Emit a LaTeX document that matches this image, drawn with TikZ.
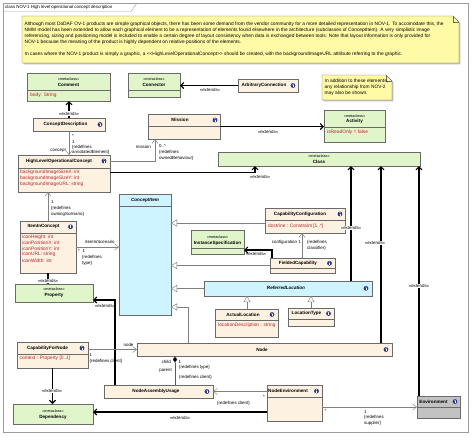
\documentclass[tikz,border=0pt]{standalone}
\usepackage{fontspec}
\setmainfont{Liberation Sans}
\usetikzlibrary{arrows.meta, shadows}

\definecolor{classbeige}{HTML}{FDF1E1}
\definecolor{metagreen}{HTML}{E1F5CB}
\definecolor{abstractcyan}{HTML}{CDF4FF}
\definecolor{envgray}{HTML}{C2C2C2}
\definecolor{noteyellow}{HTML}{FFFAA6}
\definecolor{attrred}{HTML}{B3262C}
\definecolor{iconblue}{HTML}{2B3A8F}
\definecolor{boxedge}{HTML}{6A6A6A}
\definecolor{framegray}{HTML}{9C9C9C}

\tikzset{
  box/.style={draw=boxedge, line width=0.5pt, anchor=north west, inner sep=0pt, outer sep=0pt,
    drop shadow={shadow xshift=1.3pt, shadow yshift=-1.3pt, fill=black!30, opacity=1}},
  beigebox/.style={box, fill=classbeige},
  greenbox/.style={box, fill=metagreen},
  cyanbox/.style={box, fill=abstractcyan},
  graybox/.style={box, fill=envgray},
  notebox/.style={draw=boxedge, line width=0.4pt, fill=noteyellow,
    drop shadow={shadow xshift=1.3pt, shadow yshift=-1.3pt, fill=black!25, opacity=1}},
  divider/.style={draw=boxedge, line width=0.4pt},
  notetext/.style={font=\fontsize{4.85}{6}\selectfont, align=left, inner sep=0pt, anchor=north west},
  clsname/.style={font=\fontsize{4.6}{5.5}\selectfont\bfseries, inner sep=0pt},
  absname/.style={font=\fontsize{4.6}{5.5}\selectfont\bfseries\itshape, inner sep=0pt},
  stereo/.style={font=\fontsize{3.8}{4.5}\selectfont, inner sep=0pt},
  attr/.style={font=\fontsize{4.85}{5.5}\selectfont, text=attrred, anchor=west, inner sep=0pt},
  lbl/.style={font=\fontsize{4.4}{5.2}\selectfont, inner sep=0pt},
  extlbl/.style={lbl, fill=white, inner sep=0.4pt},
  extline/.style={draw=black, line width=1.1pt, -{Straight Barb[length=3pt, width=6pt]}},
  assocline/.style={draw=gray, line width=0.45pt, -{Straight Barb[length=4pt, width=6pt]}},
  genline/.style={draw=gray, line width=0.45pt, -{Triangle[open, length=6pt, width=7pt, fill=white]}},
  compline/.style={draw=gray!70!black, line width=0.5pt, {Diamond[length=7pt, width=4.5pt, fill=black]}-},
  infoicon/.pic={
    \fill[iconblue] (0,0) circle (2.4pt);
    \fill[white] (-0.5pt,-1.5pt) rectangle (0.5pt,0.5pt);
    \fill[white] (0,1.3pt) circle (0.55pt);
  }
}

\begin{document}
\begin{tikzpicture}[x=1pt, y=-1pt]
\useasboundingbox (0,0) rectangle (474,437);
\fill[white] (0,0) rectangle (474,437);

% frame
\draw[framegray] (3,3) rectangle (468,432);
\draw[framegray] (3,11.5) -- (131,11.5) -- (137,3);
\node[lbl, anchor=west] (frametitle) at (5,7.3) {class NOV-1 High level operational concept description};

% notes
\path[notebox] (22,16) -- (453,16) -- (459,22) -- (459,63) -- (22,63) -- cycle;
\draw[divider] (453,16) -- (453,22) -- (459,22);
\node[notetext] (bignotetext) at (24.5,22) {Although most DoDAF OV-1 products are simple graphical objects, there has been some demand from the vendor community for a more detailed representation in NOV-1. To accomodate this, the\\
NMM model has been extended to allow each graphical element to be a representation of elements found elsewhere in the architecture (subclasses of ConceptItem). A very simplistic image\\
referencing, sizing and positioning model is included to enable a certain degree of layout consistency when data is exchanged between tools. Note that layout information is only provided for\\
NOV-1 because the meaning of the product is highly dependent on relative positions of the elements.\\[6pt]
In cases where the NOV-1 product is simply a graphic, a <{}<HighLevelOperationalConcept>{}> should be created, with the backgroundImageURL attribute referring to the graphic.};

\path[notebox] (322,75) -- (386,75) -- (392,81) -- (392,100) -- (322,100) -- cycle;
\draw[divider] (386,75) -- (386,81) -- (392,81);
\node[notetext] (smallnotetext) at (324.5,78.5) {In addition to these elements,\\ any relationship from NOV-2\\ may also be shown.};

% metaclasses and classes
\node[greenbox, minimum width=83pt, minimum height=28pt] (comment) at (27,73) {};
\draw[divider] (27,90) -- (110,90);
\node[stereo] (commentst) at (68.5,78.8) {«metaclass»};
\node[clsname] (commentname) at (68.5,84.8) {Comment};
\node[attr] (commentattr) at (30,95.5) {body: String};

\node[greenbox, minimum width=52pt, minimum height=24pt] (connector) at (128,73) {};
\draw[divider] (128,90) -- (180,90);
\node[stereo] (connectorst) at (154,78.8) {«metaclass»};
\node[clsname] (connectorname) at (154,84.8) {Connector};

\node[beigebox, minimum width=60pt, minimum height=13pt] (arbconn) at (238,79) {};
\node[clsname] (arbconnname) at (264,85.5) {ArbitraryConnection};
\pic at (293,85.5) {infoicon};

\node[beigebox, minimum width=72pt, minimum height=13pt] (concdesc) at (33,118) {};
\node[clsname] (concdescname) at (65.5,124.5) {ConceptDescription};
\pic at (100,124.5) {infoicon};

\node[beigebox, minimum width=72pt, minimum height=25pt] (mission) at (148,114) {};
\draw[divider] (148,126) -- (220,126);
\node[clsname] (missionname) at (180,120) {Mission};
\pic at (215,120) {infoicon};

\node[greenbox, minimum width=61pt, minimum height=32pt] (actmeta) at (324,110) {};
\draw[divider] (324,127) -- (385,127);
\node[stereo] (actst) at (354.5,115.8) {«metaclass»};
\node[clsname] (actname) at (354.5,121.5) {Activity};
\node[attr] (actattr) at (327,132.5) {isReadOnly = false};

\node[beigebox, minimum width=92pt, minimum height=37pt] (hloc) at (18,155) {};
\draw[divider] (18,168) -- (110,168);
\node[clsname] (hloctitle) at (59,161) {HighLevelOperationalConcept};
\pic at (104,161) {infoicon};
\node[attr] (hlocattr1) at (20,172.5) {backgroundImageSizeX: int};
\node[attr] (hlocattr2) at (20,178.3) {backgroundImageSizeY: int};
\node[attr] (hlocattr3) at (20,184.1) {backgroundImageURL: string};

\node[greenbox, minimum width=202pt, minimum height=14pt] (classmeta) at (218,152) {};
\node[stereo] (classst) at (319,156) {«metaclass»};
\node[clsname] (classname) at (319,162) {Class};

\node[cyanbox, minimum width=52pt, minimum height=121pt] (conceptitem) at (119,194) {};
\draw[divider] (119,206) -- (171,206);
\node[absname] (conceptitemname) at (145,200.5) {ConceptItem};

\node[beigebox, minimum width=56pt, minimum height=52pt] (iteminconcept) at (20,221) {};
\draw[divider] (20,233) -- (76,233);
\node[clsname] (iteminconceptname) at (43.5,226.8) {ItemInConcept};
\pic at (70.5,226.8) {infoicon};
\node[attr] (icattr1) at (22,237.3) {iconHeight: int};
\node[attr] (icattr2) at (22,243.1) {iconPositionX: int};
\node[attr] (icattr3) at (22,248.9) {iconPositionY: int};
\node[attr] (icattr4) at (22,254.7) {iconURL: string};
\node[attr] (icattr5) at (22,260.5) {iconWidth: int};

\node[greenbox, minimum width=78pt, minimum height=18pt] (propmeta) at (15,284) {};
\node[stereo] (propst) at (54,289.5) {«metaclass»};
\node[clsname] (propname) at (54,295.7) {Property};

\node[beigebox, minimum width=80pt, minimum height=25pt] (capconf) at (265,208) {};
\draw[divider] (265,220) -- (345,220);
\node[clsname] (capconfname) at (300,214) {CapabilityConfiguration};
\pic at (340,214) {infoicon};
\node[attr] (capconfattr) at (268,226.3) {doctrine : Constraint [1..*]};

\node[greenbox, minimum width=53pt, minimum height=24pt] (instspec) at (191,230) {};
\draw[divider] (191,248) -- (244,248);
\node[stereo] (instspecst) at (217.5,237) {«metaclass»};
\node[clsname] (instspecname) at (217.5,243) {InstanceSpecification};

\node[beigebox, minimum width=65pt, minimum height=15pt] (fieldcap) at (270,258) {};
\draw[divider] (270,268.5) -- (335,268.5);
\node[clsname] (fieldcapname) at (298,263.2) {FieldedCapability};
\pic at (329.5,263.2) {infoicon};

\node[cyanbox, minimum width=168pt, minimum height=15pt] (refloc) at (204,281) {};
\node[absname] (reflocname) at (286,288.3) {ReferredLocation};
\pic at (366,288.3) {infoicon};

\node[beigebox, minimum width=63pt, minimum height=28pt] (actloc) at (215,309) {};
\draw[divider] (215,320) -- (278,320);
\node[clsname] (actlocname) at (243,314.5) {ActualLocation};
\pic at (272,314.5) {infoicon};
\node[attr] (actlocattr) at (218,325.7) {locationDescription : string};

\node[beigebox, minimum width=46pt, minimum height=18pt] (loctype) at (288,308) {};
\draw[divider] (288,319) -- (334,319);
\node[clsname] (loctypename) at (306.5,313.5) {LocationType};
\pic at (328.5,313.5) {infoicon};

\node[beigebox, minimum width=255pt, minimum height=13pt] (nodecls) at (137,343) {};
\node[clsname] (nodename) at (262,349.5) {Node};
\pic at (386,349.5) {infoicon};

\node[beigebox, minimum width=109pt, minimum height=13pt] (nau) at (104,385) {};
\node[clsname] (nauname) at (156,391.5) {NodeAssemblyUsage};
\pic at (207,391.5) {infoicon};

\node[beigebox, minimum width=55pt, minimum height=36pt] (nodeenv) at (267,385) {};
\draw[divider] (267,397) -- (322,397);
\node[clsname] (nodeenvname) at (288,391) {NodeEnvironment};
\pic at (316.5,391) {infoicon};

\node[graybox, minimum width=43pt, minimum height=22pt] (env) at (417,396) {};
\draw[divider] (417,407) -- (460,407);
\node[clsname] (envname) at (433.5,401.5) {Environment};
\pic at (455,401.5) {infoicon};

\node[beigebox, minimum width=71pt, minimum height=26pt] (capfornode) at (17,342) {};
\draw[divider] (17,354) -- (88,354);
\node[clsname] (capfornodename) at (47.5,348) {CapabilityForNode};
\pic at (82,348) {infoicon};
\node[attr] (capfornodeattr) at (19.5,358.7) {context : Property [0..1]};

\node[greenbox, minimum width=80pt, minimum height=20pt] (depmeta) at (13,404) {};
\node[stereo] (depst) at (53,410.8) {«metaclass»};
\node[clsname] (depname) at (53,417) {Dependency};

% connection points
\coordinate (hc1) at ([xshift=37pt]classmeta.south west);
\coordinate (ms1) at ([xshift=7pt]mission.south west);
\coordinate (rl1) at ([xshift=-21pt]refloc.north east);
\coordinate (nd1) at ([xshift=-11pt]nodecls.north east);
\coordinate (nd2) at ([xshift=51pt]nodecls.north west);
\coordinate (nd3) at ([xshift=38pt]nodecls.south west);
\coordinate (en1) at ([xshift=2pt]env.north west);
\coordinate (na1) at ([xshift=11pt]nau.north west);
\coordinate (pr1) at ([yshift=-7pt]propmeta.east);
\coordinate (cc1) at ([yshift=-2.5pt]capconf.west);
\coordinate (ci1) at ([yshift=8pt]conceptitem.south east);
\coordinate (fc1) at ([xshift=32pt]fieldcap.north west);
\coordinate (fc2) at ([xshift=2pt]fieldcap.north west);
\coordinate (is1) at ([yshift=-8pt]instspec.east);
\coordinate (al1) at ([xshift=32pt]actloc.north west);
\coordinate (ne1) at ([yshift=-22pt]nodeenv.north east);
\coordinate (ne2) at ([yshift=-27pt]nodeenv.north west);

% extensions
\draw[extline] (arbconn.west) -- (arbconn.west -| connector.east);
\draw[extline] (concdesc.north) -- (concdesc.north |- comment.south);
\draw[extline] (mission.east) -- (mission.east -| actmeta.west);
\draw[extline] (hloc.east |- hlocattr1) -| (hc1);
\draw[extline] (rl1) -- (rl1 |- classmeta.south);
\draw[extline] (nd1) -- (nd1 |- classmeta.south);
\draw[extline] (en1) -- (en1 |- classmeta.south);
\draw[extline] (iteminconcept.south) -- (iteminconcept.south |- propmeta.north);
\draw[extline] (na1) |- (pr1);
\draw[extline] (fc2) |- (is1);
\draw[extline] (capfornode.south) -- (capfornode.south |- depmeta.north);
\draw[extline] (ne2) -- (ne2 -| depmeta.east);

% generalizations
\draw[genline] (cc1) -- (cc1 -| conceptitem.east);
\draw[genline] (fieldcap.west) -- (fieldcap.west -| conceptitem.east);
\draw[genline] (refloc.west) -- (refloc.west -| conceptitem.east);
\draw[genline] (nd2) |- (ci1);
\draw[genline] (al1) -- (al1 |- refloc.south);
\draw[genline] (loctype.north) -- (loctype.north |- refloc.south);

% associations
\draw[assocline] (concdesc.south) -- (concdesc.south |- hloc.north);
\draw[assocline] (hloc.east |- hloctitle) -| (ms1);
\draw[assocline] (iteminconcept.north) -- (iteminconcept.north |- hloc.south);
\draw[assocline] (iteminconcept.east) -- (iteminconcept.east -| conceptitem.west);
\draw[assocline] (fc1) -- (fc1 |- capconf.south);
\draw[assocline] (nodecls.west -| capfornode.east) -- (nodecls.west);
\draw[assocline] (nau.east -| nodeenv.west) -- (nau.east);
\draw[assocline] (ne1) -- (ne1 -| env.west);
\draw[compline] (nd3) -- (nd3 |- nau.north);

% labels
\node[lbl] (l1) at (210,90) {«extends»};
\node[extlbl] (l2) at (69,113.5) {«extends»};
\node[lbl] (l3) at (268,132) {«extends»};
\node[lbl] (l4) at (260,176.5) {«extends»};
\node[extlbl] (l5) at (351,228) {«extends»};
\node[extlbl] (l6) at (375,243) {«extends»};
\node[extlbl] (l7) at (419,286) {«extends»};
\node[extlbl] (l8) at (48,281) {«extends»};
\node[lbl] (l9) at (105,305.5) {«extends»};
\node[lbl] (l10) at (256,254) {«extends»};
\node[extlbl] (l11) at (52,391) {«extends»};
\node[lbl] (l12) at (180,418) {«extends»};

\node[lbl, anchor=east] (cd1) at (66,150.5) {concept};
\node[lbl, anchor=west] (cd2) at (72,136) {*};
\node[lbl, anchor=west] (cd3) at (72,141.5) {1};
\node[lbl, anchor=west] (cd4) at (72,147) {\{redefines};
\node[lbl, anchor=west] (cd5) at (72,152.5) {annotatedElement\}};

\node[lbl, anchor=east] (ms2) at (151,147) {mission};
\node[lbl, anchor=west] (ms3) at (159,146) {0..*};
\node[lbl, anchor=west] (ms4) at (159,152) {\{redefines};
\node[lbl, anchor=west] (ms5) at (159,158) {ownedBehaviour\}};

\node[lbl, anchor=west] (ic1) at (51,202) {1};
\node[lbl, anchor=west] (ic2) at (51,208.5) {\{redefines};
\node[lbl, anchor=west] (ic3) at (51,214.5) {owningScenario\}};

\node[lbl] (ic4) at (100,242.3) {itemInScenario};
\node[lbl, anchor=west] (ic5) at (78,250.5) {*};
\node[lbl, anchor=west] (ic6) at (82.5,251) {1};
\node[lbl, anchor=west] (ic7) at (82,257.5) {\{redefines};
\node[lbl, anchor=west] (ic8) at (82,263.5) {type\}};

\node[lbl, anchor=east] (fc3) at (301,242.5) {configuration 1};
\node[lbl, anchor=west] (fc4) at (307,242.5) {\{redefines};
\node[lbl, anchor=west] (fc5) at (307,248) {classifier\}};

\node[lbl] (cn1) at (128.5,344.5) {node};
\node[lbl, anchor=west] (cn2) at (89.5,354.5) {1};
\node[lbl, anchor=west] (cn3) at (89.5,361) {\{redefines client\}};

\node[lbl, anchor=east] (na2) at (171,362) {child};
\node[lbl, anchor=east] (na3) at (172,371) {parent};
\node[lbl, anchor=west] (na4) at (178.5,362) {1};
\node[lbl, anchor=west] (na5) at (179,367.5) {\{redefines type\}};
\node[lbl, anchor=west] (na6) at (179,377) {\{redefines client\}};

\node[lbl, anchor=east] (ne3) at (265,396.5) {*};
\node[lbl] (ne4) at (233.5,403) {\{redefines client\}};
\node[lbl, anchor=west] (ne5) at (324.5,411) {*};
\node[lbl, anchor=west] (ne6) at (364,412) {1};
\node[lbl, anchor=west] (ne7) at (364,417.5) {\{redefines};
\node[lbl, anchor=west] (ne8) at (364,423) {supplier\}};
\end{tikzpicture}
\end{document}
